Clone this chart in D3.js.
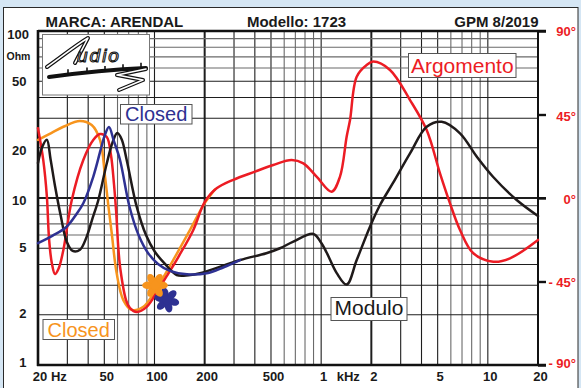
<!DOCTYPE html>
<html>
<head>
<meta charset="utf-8">
<script src="https://cdn.jsdelivr.net/npm/d3@7"></script>
<style>
  html, body { margin: 0; padding: 0; background: #d5e6f4; }
  svg { display: block; }
  text { font-family: "Liberation Sans", Arial, sans-serif; }
</style>
</head>
<body>
<svg id="chart" width="581" height="388"></svg>
<script>
// ---- Impedance modulus (Ohm) of the loudspeaker ----
const modFreq = [20, 21.2, 22.6, 23.8, 25.3, 27.4, 29.7, 32.3, 35.7, 39.2, 42.2, 46, 51.7, 56, 59.8, 63.5, 68.1, 78.2, 88.9, 100.7, 115.6, 135.9, 160, 187.5, 326, 469, 566, 681, 897, 1000, 1080, 1240, 1422, 1634, 1963, 2255, 2698, 3413, 4296, 5285, 6808, 8572, 10740, 14900, 20000];
const modOhm  = [16.2, 20.2, 22.3, 17, 11.8, 7.8, 5.5, 4.82, 4.9, 5.87, 7.4, 9.7, 16.1, 21.5, 24.5, 22.5, 16.9, 8.87, 6.0, 4.75, 4.03, 3.46, 3.45, 3.54, 4.25, 4.67, 5.0, 5.48, 6.09, 5.4, 4.7, 3.55, 3.03, 4.25, 6.73, 9.08, 12.3, 18.5, 26.7, 28.6, 24.4, 17.7, 13.4, 9.73, 7.8];

// ---- Impedance modulus with the port closed ----
const closedFreq = [20, 24.5, 29.7, 34, 37.4, 42.9, 47.5, 50.5, 53.3, 57, 62.1, 70.8, 80.7, 91.4, 105, 123.9, 156.7, 205.7, 260, 326];
const closedOhm  = [5.37, 5.95, 6.73, 8.0, 9.3, 13.4, 19.4, 24, 26.6, 22, 16.9, 8.87, 5.92, 4.69, 4.03, 3.66, 3.49, 3.54, 3.85, 4.25];

// ---- Impedance phase (degrees) ----
const argFreq = [20, 21.5, 22.6, 23.3, 24.2, 25.3, 26.6, 28.4, 31.9, 37.4, 42.9, 47.1, 51.7, 54.8, 57.2, 58.8, 60.8, 62.5, 67.5, 71.3, 78.2, 89.8, 105, 120.5, 139, 171, 200, 236, 297, 401, 516, 665, 782, 939, 1156, 1297, 1422, 1490, 1634, 1875, 2056, 2588, 3413, 4296, 5164, 5930, 6808, 8185, 10790, 13580, 20000];
const argDeg  = [37.6, 20.5, 1, -22, -35, -41, -38, -28, -1.1, 20.5, 31.3, 34.5, 32.9, 23.2, 7, -6.5, -28, -38.8, -55, -59.3, -61.4, -58.7, -49.6, -41, -31.8, -17.2, -2.2, 5.2, 9.8, 14.2, 17.8, 20.5, 18.7, 11.5, 3.4, 11.5, 33, 42, 65.4, 71.7, 73.5, 69, 52.8, 36.6, 13.3, -2.9, -17.2, -29.8, -34.3, -32.5, -22.6];

// ---- Phase with the port closed ----
const closedPhFreq = [20, 24, 28.4, 35.7, 42, 47.1, 50.5, 52.8, 55.4, 59.3, 65, 73, 85.7, 96.6, 112.5, 129.7, 163.4, 200, 230];
const closedPhDeg  = [31.3, 35, 38.4, 41.5, 39.3, 31.3, 11.5, -3.8, -19, -40.6, -55, -60.3, -58.6, -52.8, -43.1, -33.4, -17.2, -2.8, 4.5];

// ---- Axis ticks ----
const xTickVals   = [20, 50, 100, 200, 500, 1000, 2000, 5000, 10000, 20000];
const xTickLabels = ["20 Hz", "50", "100", "200", "500", "1", "2", "5", "10", "20"];
const yTickVals   = [1, 2, 5, 10, 20, 50, 100];
const yTickLabels = ["1", "2", "5", "10", "20", "50", "100"];
const pTickVals   = [90, 45, 0, -45, -90];
const pTickLabels = ["90°", "45°", "0°", "- 45°", "- 90°"];

// ---- Resonance markers (frequency, Ohm) ----
const markerOpen   = [100.7, 3.0];
const markerClosed = [118.4, 2.45];

const RED = "#ec1c24", ORANGE = "#f7941d", BLUE = "#2e3192", BLACK = "#1f1a1a";

const svg = d3.select("#chart");
const L = 38, R = 538, T = 31, B = 365;

const x  = d3.scaleLog().domain([20, 20000]).range([L, R]);
const yZ = d3.scaleLog().domain([1, 100]).range([B, T]);
const yP = d3.scaleLinear().domain([-90, 90]).range([B, T]);

// page panel
svg.append("rect").attr("x", 0).attr("y", 0).attr("width", 581).attr("height", 388).attr("fill", "#d5e6f4");
svg.append("rect").attr("x", 3.5).attr("y", 7.5).attr("width", 574.5).attr("height", 390)
  .attr("fill", "#fff").attr("stroke", "#2a2a2a").attr("stroke-width", 1);

// titles
const title = svg.append("g").attr("font-weight", "bold").attr("font-size", 15).attr("fill", "#1a1a1a");
title.append("text").attr("x", 45.5).attr("y", 26.5).text("MARCA: ARENDAL");
title.append("text").attr("x", 296.5).attr("y", 26.5).attr("text-anchor", "middle").text("Modello: 1723");
title.append("text").attr("x", 538.5).attr("y", 26.5).attr("text-anchor", "end").text("GPM 8/2019");

// grid
const grid = svg.append("g");
const xGrid = [];
[10, 100, 1000, 10000].forEach(d => { for (let m = 1; m <= 9; m++) { const v = m * d; if (v > 20 && v < 20000) xGrid.push({ v, m }); } });
grid.selectAll("line.vx").data(xGrid).join("line")
  .attr("x1", d => x(d.v)).attr("x2", d => x(d.v)).attr("y1", T).attr("y2", B)
  .attr("stroke", d => d.m >= 6 ? "#6a6a6a" : "#1e1e1e")
  .attr("stroke-width", d => (d.v === 200 || d.v === 2000) ? 2 : 1.1);
const yGrid = [];
[1, 10].forEach(d => { for (let m = 1; m <= 9; m++) { const v = m * d; if (v > 1 && v < 100) yGrid.push({ v, m }); } });
grid.selectAll("line.hy").data(yGrid).join("line")
  .attr("x1", L).attr("x2", d => d.v === 10 ? R + 8 : R).attr("y1", d => yZ(d.v)).attr("y2", d => yZ(d.v))
  .attr("stroke", d => d.m >= 6 ? "#6a6a6a" : "#1e1e1e")
  .attr("stroke-width", d => d.v === 10 ? 2.2 : 1.1);

// frame
const frame = svg.append("g").attr("stroke", "#111").attr("fill", "none");
frame.append("line").attr("x1", L).attr("x2", R + 8).attr("y1", T).attr("y2", T).attr("stroke-width", 2.6);
frame.append("line").attr("x1", L - 1).attr("x2", R + 8).attr("y1", B).attr("y2", B).attr("stroke-width", 2.6);
frame.append("line").attr("x1", L).attr("x2", L).attr("y1", T - 1).attr("y2", B + 1).attr("stroke-width", 2.6);
frame.append("line").attr("x1", R).attr("x2", R).attr("y1", T).attr("y2", B).attr("stroke-width", 2);

// logo box
const logo = svg.append("g");
logo.append("rect").attr("x", 42.5).attr("y", 34.5).attr("width", 107).attr("height", 60.5)
  .attr("fill", "#fff").attr("stroke", "#777").attr("stroke-width", 1);
const outline = (d, w) => {
  logo.append("path").attr("d", d).attr("fill", "none").attr("stroke", "#111").attr("stroke-width", w)
    .attr("stroke-linecap", "round").attr("stroke-linejoin", "round");
  logo.append("path").attr("d", d).attr("fill", "none").attr("stroke", "#fff").attr("stroke-width", w - 2.4)
    .attr("stroke-linecap", "round").attr("stroke-linejoin", "round");
};
outline("M47,67 C60,58 76,45 88,38 L75,63", 4);
logo.append("text").attr("x", 77).attr("y", 62).attr("font-family", "DejaVu Serif").attr("font-style", "italic")
  .attr("font-size", 19).attr("letter-spacing", 2).attr("fill", "#fff").attr("stroke", "#111").attr("stroke-width", 1.1)
  .text("udio");
logo.append("path").attr("d", "M49,77 Q100,70 146,68").attr("fill", "none").attr("stroke", "#111")
  .attr("stroke-width", 4).attr("stroke-linecap", "round");
[68, 87, 105, 123, 141].forEach(t => {
  logo.append("line").attr("x1", t).attr("x2", t).attr("y1", 77 - (t - 49) * 0.09).attr("y2", 71 - (t - 49) * 0.09)
    .attr("stroke", "#111").attr("stroke-width", 1.6);
});
outline("M146,69 L117,75 L143,80 L119,90", 4);

// axes labels
const axisFont = g => g.selectAll("text").attr("font-family", "Liberation Sans, Arial, sans-serif")
  .attr("font-weight", "bold").attr("font-size", 13);

const xAxis = svg.append("g").attr("transform", `translate(0,${B})`)
  .call(d3.axisBottom(x).tickValues(xTickVals).tickFormat((d, i) => xTickLabels[i]).tickSize(0))
  .call(g => g.select(".domain").remove()).call(axisFont);
xAxis.selectAll("text").attr("y", 16).attr("dy", 0).attr("dx", 2).attr("fill", "#1a1a1a");
xAxis.selectAll("text").filter(d => d === 20).attr("text-anchor", "start").attr("dx", -5.7);
svg.append("text").attr("x", x(1414) + 2).attr("y", 381).attr("text-anchor", "middle")
  .attr("font-weight", "bold").attr("font-size", 13).attr("fill", "#1a1a1a").text("kHz");

const yNudge = { 100: 3, 20: 2.5, 10: 1.5, 5: -1, 2: -1.5, 1: -3 };
const yAxis = svg.append("g").attr("transform", `translate(${L},0)`)
  .call(d3.axisLeft(yZ).tickValues(yTickVals).tickFormat((d, i) => yTickLabels[i]).tickSize(0))
  .call(g => g.select(".domain").remove()).call(axisFont);
yAxis.selectAll("text").attr("x", -11.5).attr("dy", "0.36em").attr("fill", "#1a1a1a")
  .attr("transform", d => `translate(0,${yNudge[d] || 0})`);
yAxis.selectAll("text").filter(d => d === 100).attr("x", -9);
svg.append("text").attr("x", 18.5).attr("y", 60).attr("text-anchor", "middle")
  .attr("font-weight", "bold").attr("font-size", 10.5).attr("fill", "#1a1a1a").text("Ohm");

const pNudge = { 90: -0.5, 45: 1.5, 0: 0.7, "-45": 0, "-90": -2 };
const pAxis = svg.append("g").attr("transform", `translate(${R},0)`)
  .call(d3.axisRight(yP).tickValues(pTickVals).tickFormat((d, i) => pTickLabels[i]).tickSize(8))
  .call(g => g.select(".domain").remove()).call(axisFont);
pAxis.selectAll(".tick line").attr("stroke", "#111").attr("stroke-width", 2.4);
pAxis.selectAll("text").attr("x", 38).attr("text-anchor", "end").attr("dy", "0.36em").attr("fill", RED)
  .attr("transform", d => `translate(0,${pNudge[d] || 0})`);

// curves
const zip = (a, b) => a.map((v, i) => [v, b[i]]);
const lineZ = d3.line().x(d => x(d[0])).y(d => yZ(d[1])).curve(d3.curveCatmullRom.alpha(0.5));
const lineP = d3.line().x(d => x(d[0])).y(d => yP(d[1])).curve(d3.curveCatmullRom.alpha(0.5));
const curves = svg.append("g").attr("fill", "none").attr("stroke-width", 2.5)
  .attr("stroke-linejoin", "round").attr("stroke-linecap", "round");
curves.append("path").attr("d", lineP(zip(closedPhFreq, closedPhDeg))).attr("stroke", ORANGE);
curves.append("path").attr("d", lineP(zip(argFreq, argDeg))).attr("stroke", RED);
curves.append("path").attr("d", lineZ(zip(modFreq, modOhm))).attr("stroke", BLACK);
curves.append("path").attr("d", lineZ(zip(closedFreq, closedOhm))).attr("stroke", BLUE);

// resonance markers (flower asterisks)
function flower(cx, cy, color, rot) {
  const g = svg.append("g").attr("transform", `translate(${cx},${cy}) rotate(${rot})`).attr("fill", color);
  for (let k = 0; k < 6; k++) {
    g.append("ellipse").attr("cx", 7.2).attr("cy", 0).attr("rx", 5.6).attr("ry", 3.7)
      .attr("transform", `rotate(${k * 60})`);
  }
  g.append("circle").attr("r", 4.5);
}
flower(x(markerClosed[0]), yZ(markerClosed[1]), BLUE, 15);
flower(x(markerOpen[0]), yZ(markerOpen[1]), ORANGE, 0);

// legend boxes
function tag(x0, y0, w, h, label, color, size, base) {
  svg.append("rect").attr("x", x0 + 0.5).attr("y", y0 + 0.5).attr("width", w).attr("height", h)
    .attr("fill", "#fff").attr("stroke", "#555").attr("stroke-width", 1);
  svg.append("text").attr("x", x0 + w / 2 + 0.5).attr("y", base).attr("text-anchor", "middle")
    .attr("font-size", size).attr("fill", color).text(label);
}
tag(120, 104, 71.5, 19.5, "Closed", BLUE, 20, 120.7);
tag(408, 53, 107.5, 24, "Argomento", RED, 21, 72.7);
tag(330.5, 297, 76, 23, "Modulo", "#1a1a1a", 21, 315);
tag(42.5, 319, 71.5, 20, "Closed", ORANGE, 20, 337.3);
</script>
</body>
</html>
